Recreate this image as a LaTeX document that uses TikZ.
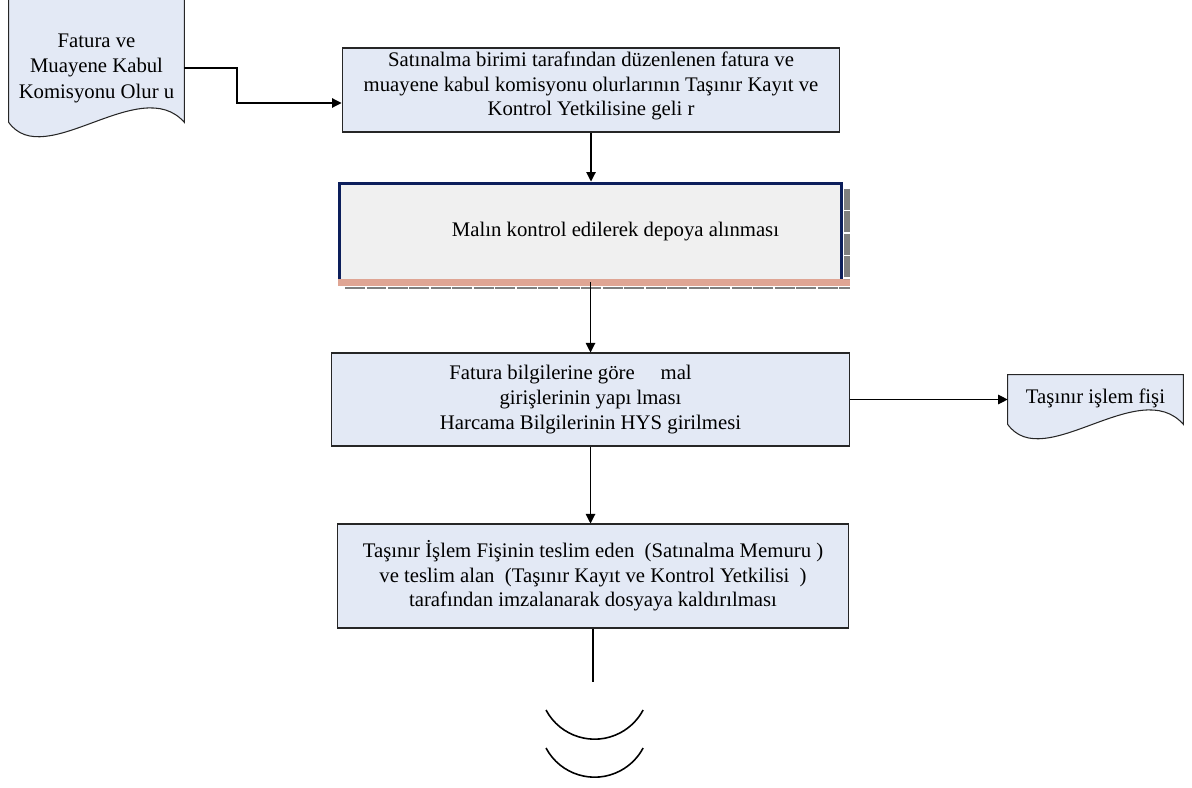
\documentclass[tikz,border=0pt]{standalone}
\usepackage{fontspec}
\setmainfont{Liberation Serif}
\usepackage{xcolor}
\usepackage{tikz}
\usetikzlibrary{
  arrows.meta,
  backgrounds
}

\definecolor{boxblue}{HTML}{E3E9F5}
\definecolor{depogray}{HTML}{F0F0F0}
\definecolor{depoblue}{HTML}{0C1E5B}
\definecolor{bandpink}{HTML}{DFA594}
\definecolor{shadowgray}{HTML}{7F7F7F}

\begin{document}
\begin{tikzpicture}[%設定
          x=0.02cm, y=-0.02cm,
          every node/.style={
              font=\fontsize{11.8}{14}\selectfont
            },
          procbox/.style={
              draw=black!85,
              fill=boxblue,
              line width=0.6pt,
              align=center,
              inner sep=2pt
            },
          docbox/.style={
              align=center,
              minimum width=3.5cm
            },
          docfill/.style={
              draw=black!85,
              fill=boxblue,
              line width=0.6pt
            },
          flow/.style={
              line width=0.6pt,
              -{Triangle[length=0.19cm,width=0.19cm]}
            }
        ]

        \useasboundingbox (0,0) rectangle (1192,787);

        % 処理ボックス
        \node[procbox, minimum width=9.96cm, minimum height=1.68cm, text depth=7pt]
          (satinalma) at (591,90)
          {Satınalma birimi tarafından düzenlenen fatura ve\\
           muayene kabul komisyonu olurlarının Taşınır Kayıt ve\\
           Kontrol Yetkilisine geli r};
        \node[draw=depoblue, fill=depogray, line width=0.06cm,
          minimum width=10.04cm, minimum height=1.96cm]
          (depo) at (590.5,232)
          {\hspace*{1cm}Malın kontrol edilerek depoya alınması};
        \node[procbox, minimum width=10.38cm, minimum height=1.86cm]
          (giris) at (590.5,399.5)
          {Fatura bilgilerine göre \quad mal\hspace*{0.8cm}\\
           girişlerinin yapı lması\\
           Harcama Bilgilerinin HYS girilmesi};
        \node[procbox, minimum width=10.24cm, minimum height=2.08cm]
          (teslim) at (593,576)
          {Taşınır İşlem Fişinin teslim eden \ (Satınalma Memuru )\\
           ve teslim alan \ (Taşınır Kayıt ve Kontrol Yetkilisi \ )\\
           tarafından imzalanarak dosyaya kaldırılması};

        % 書類
        \node[docbox, minimum height=2.16cm, font=\fontsize{11.8}{14.5}\selectfont]
          (fatura) at (96.5,68)
          {Fatura ve\\ Muayene Kabul\\ Komisyonu Olur u};
        \node[docbox, minimum height=0.98cm, text depth=4pt] (fis) at (1095.5,399.5)
          {Taşınır işlem fişi};
        \begin{scope}[on background layer]
          \draw[docfill] ([yshift=0.5cm]fatura.north west)
            -- ([yshift=0.5cm]fatura.north east) -- (fatura.south east)
            .. controls +(-44,-50) and +(36,50) .. (fatura.south west) -- cycle;
          \draw[docfill] (fis.north west) -- (fis.north east) -- (fis.south east)
            .. controls +(-44,-50) and +(36,50) .. (fis.south west) -- cycle;
        \end{scope}

        % 影と帯
        \fill[bandpink] (338,279) rectangle (850,286);
        \draw[shadowgray, line width=0.04cm, dash pattern=on 0.4cm off 0.03cm]
          (345,287.5) -- (850,287.5);
        \draw[shadowgray, line width=0.12cm, dash pattern=on 0.42cm off 0.03cm]
          (847,189) -- (847,279);

        % 矢印
        \coordinate (knick) at (237,86);
        \coordinate (satin_in) at ([yshift=-0.26cm]satinalma.west);
        \draw[flow] (fatura.east) -| (knick) |- (satin_in);
        \draw[flow] (satinalma.south) -- (satinalma.south |- depo.north);
        \draw[flow] (depo.south) -- (depo.south |- giris.north);
        \draw[flow] (giris.east) -- (fis.west);
        \draw[flow] (giris.south) -- (giris.south |- teslim.north);
        \coordinate (devam) at (595,682);
        \draw[line width=0.6pt] (teslim.south) -- (teslim.south |- devam);

        % 接続記号
        \draw[line width=0.9pt] (546,710) arc[start angle=208, end angle=332, radius=1.1cm];
        \draw[line width=0.9pt] (546,748) arc[start angle=208, end angle=332, radius=1.1cm];

      \end{tikzpicture}
\end{document}
